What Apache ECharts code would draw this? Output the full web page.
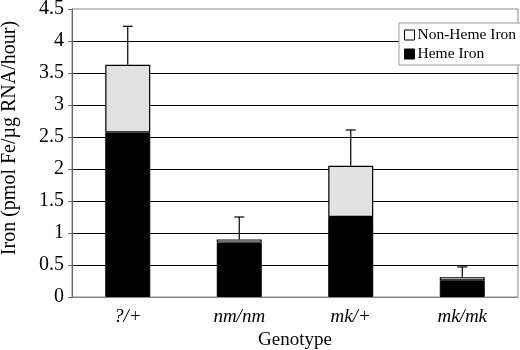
<!DOCTYPE html>
<html>
<head>
<meta charset="utf-8">
<script src="https://cdn.jsdelivr.net/npm/echarts@6/dist/echarts.min.js"></script>
<style>
  html, body { margin: 0; padding: 0; background: #fff; }
  #chart { width: 520px; height: 350px; }
</style>
</head>
<body>
<div id="chart"></div>
<script>
  // values
  var genotypes = ['?/+', 'nm/nm', 'mk/+', 'mk/mk']
  var hemeIron = [2.57, 0.85, 1.25, 0.26]
  var nonHemeIron = [1.06, 0.05, 0.80, 0.05]
  var errUp = [0.60, 0.35, 0.56, 0.16]

  var serif = 'Liberation Serif, Times New Roman, serif'

  var totals = hemeIron.map(function (v, i) { return v + nonHemeIron[i] })
  var errData = totals.map(function (t, i) { return [i, t, t + errUp[i]] })

  var chart = echarts.init(document.getElementById('chart'))

  chart.setOption({
    animation: false,
    textStyle: { fontFamily: serif },
    grid: {
      left: 72, right: 2, top: 9, bottom: 53,
      containLabel: false,
      outerBoundsMode: 'none',
      show: true, borderColor: '#888', borderWidth: 1
    },
    legend: {
      data: [
        { name: 'Non-Heme Iron', itemStyle: { color: '#fff', borderColor: '#000', borderWidth: 1 } },
        { name: 'Heme Iron', itemStyle: { color: '#000', borderColor: '#000', borderWidth: 1 } }
      ],
      icon: 'rect',
      orient: 'vertical',
      left: 399, top: 23,
      itemWidth: 10, itemHeight: 10, itemGap: 3,
      padding: [4, 6, 3, 5],
      backgroundColor: '#fff',
      borderColor: '#999', borderWidth: 1,
      textStyle: { fontFamily: serif, fontSize: 15.5, color: '#000', padding: [0, 0, 0, -2] }
    },
    xAxis: {
      type: 'category',
      data: genotypes,
      name: 'Genotype',
      nameLocation: 'middle',
      nameGap: 32,
      nameTextStyle: { fontFamily: serif, fontSize: 19, color: '#000' },
      axisLine: { lineStyle: { color: '#888' } },
      axisTick: { length: 5, lineStyle: { color: '#888' } },
      axisLabel: { fontFamily: serif, fontSize: 19, fontStyle: 'italic', color: '#000', margin: 10 }
    },
    yAxis: {
      type: 'value',
      min: 0, max: 4.5, interval: 0.5,
      name: 'Iron (pmol Fe/µg RNA/hour)',
      nameLocation: 'middle',
      nameGap: 52,
      nameTextStyle: { fontFamily: serif, fontSize: 20, color: '#000', padding: [0, 0, 0, 30] },
      axisLine: { show: true, lineStyle: { color: '#666' } },
      axisTick: { show: true, length: 4, lineStyle: { color: '#666' } },
      axisLabel: { fontFamily: serif, fontSize: 20, color: '#000', margin: 8 },
      splitLine: { show: true, showMaxLine: false, lineStyle: { color: '#000', width: 1.2 } }
    },
    series: [
      {
        name: 'Heme Iron',
        type: 'bar',
        stack: 'iron',
        barWidth: 45,
        data: hemeIron,
        itemStyle: { color: '#000', borderColor: '#000', borderWidth: 1 }
      },
      {
        name: 'Non-Heme Iron',
        type: 'bar',
        stack: 'iron',
        barWidth: 45,
        data: nonHemeIron,
        itemStyle: { color: '#e2e2e2', borderColor: '#000', borderWidth: 1.2 }
      },
      {
        name: 'err',
        type: 'custom',
        data: errData,
        z: 5,
        renderItem: function (params, api) {
          var lo = api.coord([api.value(0), api.value(1)])
          var hi = api.coord([api.value(0), api.value(2)])
          var cap = 5
          var st = { stroke: '#000', lineWidth: 1.2 }
          return {
            type: 'group',
            children: [
              { type: 'line', shape: { x1: lo[0], y1: lo[1], x2: hi[0], y2: hi[1] }, style: st },
              { type: 'line', shape: { x1: hi[0] - cap, y1: hi[1], x2: hi[0] + cap, y2: hi[1] }, style: st }
            ]
          }
        }
      }
    ]
  })
</script>
</body>
</html>
